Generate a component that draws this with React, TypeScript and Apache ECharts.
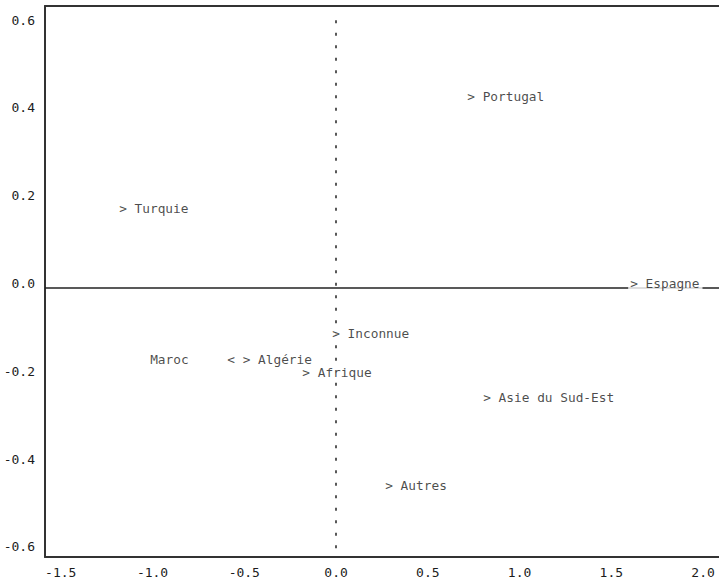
import React, { useEffect, useRef } from "react";
import * as echarts from "echarts";

const names = ["Portugal", "Turquie", "Espagne", "Inconnue", "Maroc", "Algérie", "Afrique", "Asie du Sud-Est", "Autres"];
const xValues = [0.736, -1.161, 1.613, 0.0, -0.572, -0.488, -0.163, 0.823, 0.289];
const yValues = [0.426, 0.171, 0.0, -0.115, -0.173, -0.173, -0.202, -0.26, -0.46];
const labelSides = ["right", "right", "right", "right", "left", "right", "right", "right", "right"];
const xTicks = [-1.5, -1.0, -0.5, 0.0, 0.5, 1.0, 1.5, 2.0];
const yTicks = [-0.6, -0.4, -0.2, 0.0, 0.2, 0.4, 0.6];

const FONT = "'DejaVu Sans Mono', monospace";
const INK = "#1c1c1c";
const CELL = 7.7;

export default function App() {
  const ref = useRef<HTMLDivElement>(null);
  useEffect(() => {
    if (!ref.current) return;
    const chart = echarts.init(ref.current, null, { renderer: "svg" });
    const NB = "\u00a0";
    const data = names.map((n, i) => {
      const left = labelSides[i] === "left";
      const covers = n === "Espagne" || n === "Inconnue" || n === "Afrique";
      return {
        value: [xValues[i], yValues[i]],
        name: n,
        label: {
          formatter: left ? n + NB.repeat(5) + "<" : ">" + NB + n,
          position: left ? [CELL / 2 + 0.5, -4] : [-CELL / 2 + 0.5, -4],
          align: left ? "right" : "left",
          verticalAlign: "middle",
          backgroundColor: covers ? "#ffffff" : "transparent",
          padding: n === "Espagne" ? [0, 3, 0, 2] : 0,
        },
      };
    });
    chart.setOption({
      animation: false,
      grid: { left: 45, right: 0, top: 6, bottom: 24, containLabel: false },
      xAxis: [
        {
          type: "value",
          min: -1.586,
          max: 2.087,
          position: "bottom",
          splitLine: { show: false },
          axisTick: { show: false },
          axisLine: { show: true, onZero: false, lineStyle: { color: "#333", width: 2 } },
          axisLabel: {
            customValues: xTicks,
            formatter: (v: number) => v.toFixed(1),
            fontFamily: FONT,
            fontSize: 13,
            color: INK,
            margin: 9,
          },
        },
        {
          type: "value",
          min: -1.586,
          max: 2.087,
          position: "top",
          splitLine: { show: false },
          axisTick: { show: false },
          axisLabel: { show: false },
          axisLine: { show: true, onZero: false, lineStyle: { color: "#333", width: 2 } },
        },
      ],
      yAxis: {
        type: "value",
        min: -0.6128,
        max: 0.6423,
        splitLine: { show: false },
        axisTick: { show: false },
        axisLine: { show: true, onZero: false, lineStyle: { color: "#333", width: 2 } },
        axisLabel: {
          customValues: yTicks,
          formatter: (v: number) => "{t|" + v.toFixed(1) + "}",
          fontFamily: FONT,
          fontSize: 13,
          color: INK,
          margin: 10,
          rich: {
            t: { fontFamily: FONT, fontSize: 13, color: INK, padding: [0, 0, 9, 0] },
          },
        },
      },
      series: [
        {
          type: "line",
          data: [],
          z: 1,
          silent: true,
          markLine: {
            silent: true,
            symbol: ["none", "none"],
            label: { show: false },
            animation: false,
            data: [
              [
                { coord: [-1.586, 0] },
                { coord: [2.087, 0] },
              ],
            ],
            lineStyle: { color: "#222", width: 1.5, type: "solid" },
          },
        },
        {
          type: "line",
          data: [],
          z: 1,
          silent: true,
          markLine: {
            silent: true,
            symbol: ["none", "none"],
            label: { show: false },
            animation: false,
            data: [
              [
                { coord: [0, 0.61] },
                { coord: [0, -0.605] },
              ],
            ],
            lineStyle: { color: "#222", width: 1.5, type: [3, 9.5] },
          },
        },
        {
          type: "scatter",
          z: 5,
          symbolSize: 1,
          itemStyle: { color: "rgba(0,0,0,0)" },
          label: {
            show: true,
            fontFamily: FONT,
            fontSize: 12.8,
            color: INK,
          },
          data,
        },
      ],
    });
    return () => chart.dispose();
  }, []);
  return (
    <div
      ref={ref}
      style={{ position: "absolute", left: 0, top: 0, width: 719, height: 581, background: "#fff" }}
    />
  );
}
